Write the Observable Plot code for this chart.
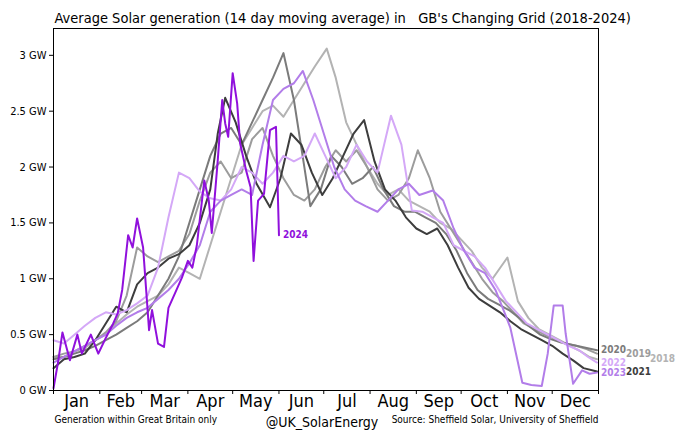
<!DOCTYPE html>
<html>
<head>
<meta charset="utf-8">
<script src="https://cdn.jsdelivr.net/npm/d3@7"></script>
<script src="https://cdn.jsdelivr.net/npm/@observablehq/plot@0.6"></script>
<style>
body { margin: 0; background: #fff; }
svg text { white-space: pre; }
</style>
</head>
<body>
<div id="chart"></div>
<script>
// datos: [dia del año, GW]
const months = ["Jan","Feb","Mar","Apr","May","Jun","Jul","Aug","Sep","Oct","Nov","Dec"]
const monthStarts = [0,31,59,90,120,151,181,212,243,273,304,334,365]
const yTicks = [0,0.5,1,1.5,2,2.5,3]
const years = [2018,2019,2020,2021,2022,2023,2024]

const gen2018 = [[0,0.3],[7,0.3],[14,0.35],[21,0.38],[28,0.45],[35,0.5],[42,0.6],[49,0.68],[56,0.75],[63,0.8],[70,0.85],[77,0.95],[84,1.1],[91,1.05],[98,1.0],[105,1.3],[112,1.6],[119,1.9],[126,2.2],[133,2.35],[140,2.5],[147,2.55],[154,2.45],[161,2.6],[168,2.75],[175,2.9],[183,3.06],[189,2.8],[196,2.4],[203,2.2],[210,2.0],[217,1.85],[224,1.75],[231,1.8],[238,1.7],[245,1.65],[252,1.6],[259,1.5],[266,1.45],[273,1.35],[280,1.25],[287,1.1],[294,1.0],[304,1.19],[311,0.8],[318,0.65],[325,0.55],[332,0.5],[339,0.45],[346,0.4],[353,0.35],[359,0.3],[364,0.28]]
const gen2019 = [[0,0.3],[7,0.33],[14,0.35],[21,0.4],[28,0.45],[35,0.52],[42,0.62],[49,0.85],[56,1.28],[63,1.2],[70,1.15],[77,1.2],[84,1.25],[91,1.4],[98,1.7],[105,1.95],[112,2.05],[119,1.9],[126,1.95],[133,2.25],[140,2.35],[147,2.1],[154,1.9],[161,1.75],[168,1.7],[175,1.8],[182,2.0],[189,2.15],[196,2.05],[203,2.15],[210,2.0],[217,1.8],[224,1.7],[231,1.75],[238,1.9],[244,2.15],[252,1.9],[259,1.6],[266,1.45],[273,1.3],[280,1.15],[287,1.0],[294,0.88],[301,0.8],[308,0.7],[315,0.6],[322,0.55],[329,0.5],[336,0.46],[343,0.42],[350,0.4],[357,0.37],[364,0.33]]
const gen2020 = [[0,0.28],[7,0.3],[14,0.33],[21,0.36],[28,0.4],[35,0.45],[42,0.5],[49,0.56],[56,0.62],[63,0.7],[70,0.85],[77,1.0],[84,1.2],[91,1.5],[98,1.8],[105,2.1],[112,2.3],[119,2.35],[126,2.2],[133,2.4],[140,2.6],[147,2.8],[154,3.02],[161,2.6],[168,2.0],[172,1.65],[179,1.8],[186,2.1],[193,2.0],[200,1.85],[207,1.9],[214,2.0],[221,1.8],[228,1.65],[235,1.6],[242,1.6],[249,1.55],[256,1.5],[263,1.4],[270,1.25],[277,1.05],[284,0.9],[291,0.82],[298,0.77],[305,0.72],[312,0.65],[319,0.57],[326,0.5],[333,0.46],[340,0.43],[347,0.41],[354,0.39],[364,0.36]]
const gen2021 = [[0,0.2],[7,0.28],[14,0.3],[21,0.33],[28,0.45],[35,0.6],[42,0.75],[49,0.7],[56,0.95],[63,1.05],[70,1.1],[77,1.18],[84,1.22],[91,1.3],[98,1.5],[105,1.8],[110,2.3],[115,2.62],[122,2.4],[129,2.1],[136,1.85],[145,1.64],[152,1.9],[159,2.3],[166,2.2],[173,1.95],[180,1.75],[187,1.9],[194,2.1],[201,2.3],[208,2.42],[215,2.05],[222,1.8],[229,1.7],[236,1.55],[243,1.45],[250,1.4],[257,1.45],[264,1.3],[271,1.1],[278,0.92],[285,0.82],[292,0.76],[299,0.7],[306,0.62],[313,0.55],[320,0.5],[327,0.45],[334,0.4],[341,0.33],[348,0.27],[355,0.2],[364,0.17]]
const gen2022 = [[0,0.45],[7,0.42],[14,0.5],[21,0.58],[28,0.65],[35,0.7],[42,0.68],[49,0.72],[56,0.78],[63,0.85],[70,1.1],[77,1.55],[84,1.95],[91,1.9],[98,1.78],[105,1.72],[112,1.7],[119,1.8],[126,2.0],[133,1.95],[140,1.85],[147,1.95],[154,2.1],[161,2.05],[168,2.1],[175,2.3],[182,2.1],[189,1.9],[196,2.0],[203,2.2],[210,2.05],[217,1.95],[226,2.46],[233,2.2],[240,1.61],[247,1.6],[254,1.55],[261,1.5],[268,1.3],[275,1.25],[282,1.2],[289,1.1],[296,0.95],[303,0.8],[310,0.7],[317,0.6],[324,0.55],[331,0.5],[338,0.45],[345,0.4],[352,0.36],[358,0.3],[364,0.25]]
const gen2023 = [[0,0.25],[7,0.3],[14,0.35],[21,0.4],[28,0.45],[35,0.5],[42,0.58],[49,0.65],[56,0.7],[63,0.74],[70,0.82],[77,0.9],[84,1.0],[91,1.14],[98,1.3],[105,1.6],[112,1.7],[119,1.75],[126,1.8],[133,1.75],[140,2.2],[147,2.6],[154,2.7],[161,2.75],[167,2.86],[174,2.6],[181,2.3],[188,2.0],[195,1.8],[202,1.7],[209,1.65],[217,1.6],[224,1.7],[231,1.8],[238,1.85],[245,1.75],[254,1.79],[261,1.7],[268,1.45],[275,1.25],[282,1.1],[289,1.05],[296,0.9],[302,0.7],[306,0.56],[314,0.07],[320,0.05],[327,0.04],[331,0.33],[335,0.76],[341,0.76],[343,0.51],[348,0.06],[354,0.18],[359,0.15],[364,0.16]]
const gen2024 = [[0,0.02],[3,0.25],[6,0.52],[11,0.27],[16,0.5],[19,0.33],[25,0.5],[30,0.33],[35,0.47],[40,0.6],[43,0.69],[46,0.9],[50,1.39],[53,1.28],[56,1.54],[60,1.28],[64,0.54],[66,0.72],[70,0.42],[74,0.39],[77,0.74],[82,0.89],[86,1.01],[90,1.16],[93,1.1],[96,1.3],[101,1.88],[104,1.7],[106,1.41],[110,2.06],[113,2.6],[115,2.39],[117,2.27],[120,2.84],[123,2.57],[125,2.21],[129,1.97],[132,1.82],[134,1.16],[137,1.7],[141,1.76],[145,2.33],[149,2.36],[151,1.39]]

const genByYear = {2018: gen2018, 2019: gen2019, 2020: gen2020, 2021: gen2021, 2022: gen2022, 2023: gen2023, 2024: gen2024}
const colores = ["#b3b3b3","#9c9c9c","#7b7b7b","#3d3d3d","#d4a8f7","#b27de9","#9010dc"]
// desplazamiento de las etiquetas al final de cada linea
const labelDx = {2018: 53, 2019: 29, 2020: 4, 2021: 29, 2022: 4, 2023: 4, 2024: 4}

const rows = years.flatMap(y => genByYear[y].map(([day, gw]) => ({year: y, day, gw})))
const ends = years.map(y => {
  const last = genByYear[y][genByYear[y].length - 1]
  return {year: y, day: last[0], gw: last[1]}
})
const monthMids = months.map((m, i) => (monthStarts[i] + monthStarts[i + 1]) / 2)
const monthName = new Map(monthMids.map((d, i) => [d, months[i]]))

let chart = Plot.plot({
  width: 680,
  height: 444,
  marginLeft: 53,
  marginRight: 82,
  marginTop: 28,
  marginBottom: 54,
  style: {fontFamily: "'DejaVu Sans Condensed', 'DejaVu Sans', sans-serif", background: "#fff", color: "#000"},
  x: {domain: [0, 365], axis: null},
  y: {domain: [0, 3.24], axis: null},
  color: {domain: years, range: colores},
  marks: [
    Plot.line(rows, {x: "day", y: "gw", z: "year", stroke: "year", strokeWidth: 2}),
    Plot.frame({stroke: "#000", strokeWidth: 1}),
    Plot.axisY({ticks: yTicks, tickFormat: d => d + " GW", tickSize: 4, tickPadding: 3, fontSize: 11, label: null}),
    Plot.axisX({ticks: monthStarts, tickFormat: () => "", tickSize: 4, label: null}),
    Plot.axisX({ticks: monthMids, tickFormat: d => monthName.get(d), tickSize: 0, tickPadding: 4, fontSize: 18, label: null}),
    Plot.text(ends, {x: "day", y: "gw", text: d => String(d.year), fill: "year", textAnchor: "start", fontWeight: "bold", fontSize: 10}),
    Plot.text(["Average Solar generation (14 day moving average) in   GB's Changing Grid (2018-2024)"],
      {frameAnchor: "top-left", textAnchor: "start", dx: 1, dy: -16, fontSize: 14.5}),
    Plot.text(["Generation within Great Britain only"], {frameAnchor: "bottom-left", textAnchor: "start", dx: 1, dy: 32, fontSize: 10}),
    Plot.text(["@UK_SolarEnergy"], {frameAnchor: "bottom", dx: -4, dy: 36, fontSize: 14}),
    Plot.text(["Source: Sheffield Solar, University of Sheffield"], {frameAnchor: "bottom-right", textAnchor: "end", dy: 32, fontSize: 10})
  ]
})

// mover las etiquetas de año segun labelDx
d3.select(chart).selectAll("text").filter(function() {
  return years.map(String).includes(this.textContent)
}).attr("dx", function() { return labelDx[+this.textContent] })

d3.select('#chart').append(() => chart)
</script>
</body>
</html>
